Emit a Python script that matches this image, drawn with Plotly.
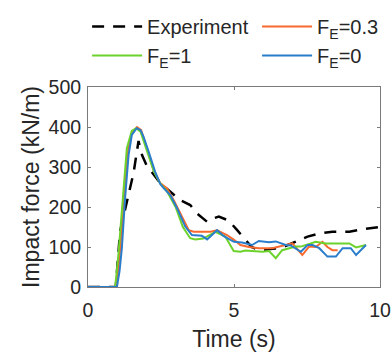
import plotly.graph_objects as go

# Measured impact force vs. time
t_exp = [0, 0.95, 1.1, 1.35, 1.56, 1.73, 1.85, 2.0, 2.2, 2.47, 2.82, 3.16, 3.5, 3.73,
         4.08, 4.31, 4.48, 4.82, 5.11, 5.3, 5.6, 5.85, 6.1, 6.4, 6.71, 7.0, 7.29, 7.52,
         7.92, 8.37, 8.95, 9.46, 10.0]
f_exp = [0, 0, 140, 215, 285, 365, 330, 305, 285, 260, 238, 217, 205, 184,
         163, 172, 176, 166, 142, 125, 100, 92, 94, 96, 101, 110, 120, 126,
         134, 138, 138, 145, 150]

# Simulation, F_E = 0.3
t_03 = [0, 0.96, 1.06, 1.2, 1.36, 1.5, 1.68, 1.82, 2.0, 2.25, 2.47, 2.7, 2.95, 3.16,
        3.45, 3.62, 4.19, 4.42, 4.76, 5.0, 5.22, 5.51, 5.85, 6.31, 6.77, 7.0, 7.34,
        7.57, 7.8, 8.03, 8.2, 8.37, 8.55]
f_03 = [0, 0, 60, 180, 340, 385, 400, 392, 350, 292, 260, 247, 215, 184,
        142, 138, 138, 142, 130, 118, 105, 100, 97, 97, 105, 109, 80,
        101, 100, 113, 100, 92, 92]

# Simulation, F_E = 1
t_1 = [0, 0.93, 1.04, 1.15, 1.33, 1.5, 1.65, 1.8, 2.0, 2.25, 2.47, 2.7, 3.0, 3.25,
       3.5, 3.67, 3.95, 4.36, 4.7, 4.99, 5.22, 5.39, 5.97, 6.2, 6.43, 6.65, 7.11,
       7.29, 7.8, 8.14, 8.6, 8.95, 9.18, 9.52]
f_1 = [0, 0, 80, 180, 347, 390, 397, 388, 345, 290, 259, 240, 200, 150,
       122, 119, 121, 138, 126, 90, 88, 91, 88, 90, 72, 92, 101,
       101, 113, 109, 109, 109, 99, 105]

# Simulation, F_E = 0
t_0 = [0, 0.99, 1.08, 1.16, 1.27, 1.39, 1.5, 1.67, 1.8, 1.9, 2.07, 2.3, 2.47, 2.59,
       2.82, 3.05, 3.33, 3.56, 3.9, 4.08, 4.42, 4.65, 5.0, 5.27, 5.62, 5.85, 6.2,
       6.43, 6.77, 6.94, 7.29, 7.52, 7.69, 7.92, 8.2, 8.49, 8.72, 9.0, 9.18, 9.52]
f_0 = [0, 0, 40, 97, 222, 330, 380, 397, 392, 376, 340, 288, 258, 247,
       230, 197, 151, 130, 128, 119, 142, 127, 113, 111, 105, 115, 112,
       114, 105, 104, 88, 105, 105, 97, 76, 76, 97, 97, 80, 105]

x_ticks = [0, 5, 10]
y_ticks = [0, 100, 200, 300, 400, 500]

FONT = "Liberation Sans, Arial, Helvetica, sans-serif"
INK = "#262626"

fig = go.Figure()
# Left legend column: Experiment, F_E=1 ; right column: F_E=0.3, F_E=0
fig.add_trace(go.Scatter(x=t_exp, y=f_exp, mode="lines", name="Experiment", legend="legend",
                         line=dict(color="black", width=2.5, dash="12px,9px")))
fig.add_trace(go.Scatter(x=t_03, y=f_03, mode="lines", name="F<sub>E</sub>=0.3", legend="legend2",
                         line=dict(color="#F7692F", width=2)))
fig.add_trace(go.Scatter(x=t_1, y=f_1, mode="lines", name="F<sub>E</sub>=1", legend="legend",
                         line=dict(color="#6CD22C", width=2)))
fig.add_trace(go.Scatter(x=t_0, y=f_0, mode="lines", name="F<sub>E</sub>=0", legend="legend2",
                         line=dict(color="#2A7DCB", width=2)))

axis_common = dict(
    showline=True, linecolor="#7a7a7a", linewidth=1, mirror="ticks",
    ticks="inside", ticklen=3, tickcolor="#7a7a7a", tickwidth=1,
    showgrid=False, zeroline=False, ticklabeloverflow="allow", automargin=False,
    tickfont=dict(family=FONT, size=19.5, color=INK),
)

legend_common = dict(
    orientation="v", yanchor="top", y=1.40, xanchor="left",
    itemwidth=50, font=dict(family=FONT, size=20, color=INK),
    bgcolor="rgba(0,0,0,0)", borderwidth=0,
)

fig.update_layout(
    width=391, height=352,
    margin=dict(l=88, r=11, t=87, b=65, autoexpand=False),
    paper_bgcolor="white", plot_bgcolor="white",
    font=dict(family=FONT, size=20, color=INK),
    showlegend=True,
    legend=dict(x=-0.003, **legend_common),
    legend2=dict(x=0.579, **legend_common),
    xaxis=dict(range=[0, 10], tickvals=x_ticks, ticktext=[str(v) for v in x_ticks],
               ticklabelstandoff=6,
               title=dict(text="Time (s)", font=dict(family=FONT, size=23, color=INK), standoff=12),
               **axis_common),
    yaxis=dict(range=[0, 500], tickvals=y_ticks, ticktext=[str(v) for v in y_ticks],
               ticklabelstandoff=2,
               title=dict(text="Impact force (kN/m)", font=dict(family=FONT, size=23, color=INK), standoff=2),
               **axis_common),
)

fig.write_html("out.html")
